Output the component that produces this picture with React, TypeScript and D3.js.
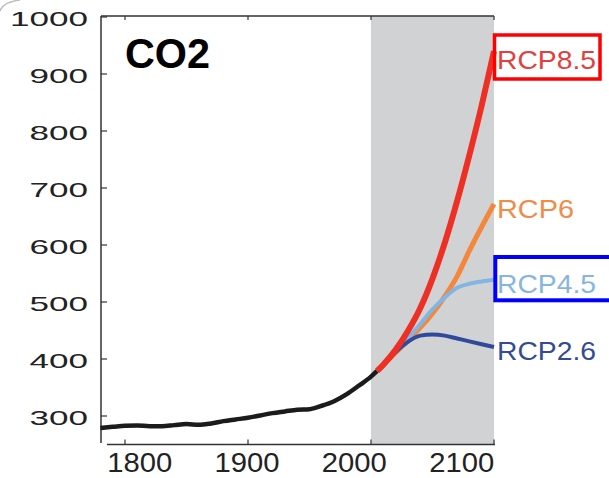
import React from "react";
import * as d3 from "d3";

// Historical atmospheric CO2 (ppm)
const histYears = [1780, 1790, 1800, 1810, 1820, 1830, 1840, 1850, 1860, 1870, 1880, 1890, 1900, 1910, 1920, 1930, 1940, 1950, 1960, 1970, 1980, 1990, 2000, 2005];
const histCO2 = [279, 281, 283, 283.5, 282, 282, 284, 286, 284.5, 287, 291, 294, 297, 301, 305, 308, 311, 312, 318, 326, 338, 353, 369, 379];

// Scenario projections (ppm)
const rcpYears = [2005, 2010, 2020, 2030, 2040, 2050, 2060, 2070, 2080, 2090, 2100];
const rcp85 = [379, 390, 416, 449, 489, 541, 604, 677, 758, 845, 940];
const rcp6 = [379, 390, 411, 433, 455, 480, 510, 545, 590, 632, 672];
const rcp45 = [379, 390, 412, 436, 461, 487, 508, 525, 532, 536, 539];
const rcp26 = [379, 389, 412, 430, 441, 443, 441, 436, 431, 426, 421];

const yTicks = [300, 400, 500, 600, 700, 800, 900, 1000];
const xTicks = [1800, 1900, 2000, 2100];
const scenarioNames = ["RCP8.5", "RCP6", "RCP4.5", "RCP2.6"];

const W = 609;
const H = 478;

export default function App() {
  const x = d3.scaleLinear().domain([1780, 2100]).range([100.4, 494]);
  const y = d3.scaleLinear().domain([300, 1000]).range([416, 17]);
  // tick labels sit on a slightly compressed spacing under the axis
  const xLab = d3.scaleLinear().domain([1800, 2100]).range([139.7, 461.7]);

  const line = d3
    .line<[number, number]>()
    .x((d) => x(d[0]))
    .y((d) => y(d[1]))
    .curve(d3.curveMonotoneX);

  const pts = (years: number[], vals: number[]) =>
    years.map((yr, i) => [yr, vals[i]] as [number, number]);

  const series = [
    { name: scenarioNames[1], vals: rcp6, color: "#f5873c", width: 5, label: "#f28a48", dy: 14 },
    { name: scenarioNames[2], vals: rcp45, color: "#82b5e2", width: 4, label: "#86b6e0", dy: 13 },
    { name: scenarioNames[3], vals: rcp26, color: "#30499a", width: 4, label: "#344b94", dy: 13 },
    { name: scenarioNames[0], vals: rcp85, color: "#ee3024", width: 6, label: "#e2403d", dy: 18 },
  ];

  const axisColor = "#333";
  const top = 16;
  const bottomY = 444.5;

  return (
    <div style={{ position: "fixed", left: 0, top: 0 }}>
      <svg width={W} height={H} style={{ display: "block", background: "#fff" }} fontFamily="'Liberation Sans', Arial, Helvetica, sans-serif">
        {/* slide corner */}
        <path d="M0,11 Q3,2 20,0" fill="none" stroke="#bdbdbd" strokeWidth={1.5} />

        {/* projection period */}
        <rect x={x(2000)} y={top} width={x(2100) - x(2000)} height={bottomY - top} fill="#d1d2d4" />

        {/* left axis */}
        <line x1={101} x2={101} y1={top} y2={443} stroke={axisColor} strokeWidth={1.5} />
        {yTicks.map((t) => (
          <g key={t}>
            <line x1={101} x2={107} y1={y(t)} y2={y(t)} stroke={axisColor} strokeWidth={1.2} />
            <text
              x={88}
              y={y(t) + 8.5}
              textAnchor="end"
              fontSize={21}
              fill="#222"
              textLength={String(t).length * 19.5}
              lengthAdjust="spacingAndGlyphs"
            >
              {t}
            </text>
          </g>
        ))}

        {/* top frame */}
        <line x1={101} x2={x(2100)} y1={top} y2={top} stroke={axisColor} strokeWidth={1.5} />
        {xTicks.map((t) => (
          <line key={"tt" + t} x1={x(t)} x2={x(t)} y1={top} y2={top + 4} stroke={axisColor} strokeWidth={1.2} />
        ))}

        {/* bottom axis */}
        <line x1={107} x2={x(2100) + 1} y1={bottomY} y2={bottomY} stroke={axisColor} strokeWidth={1.5} />
        {xTicks.map((t) => (
          <g key={"bt" + t}>
            <line x1={x(t)} x2={x(t)} y1={bottomY} y2={bottomY - 5} stroke={axisColor} strokeWidth={1.2} />
            <text
              x={xLab(t)}
              y={472}
              textAnchor="middle"
              fontSize={28}
              fill="#222"
              textLength={65}
              lengthAdjust="spacingAndGlyphs"
            >
              {t}
            </text>
          </g>
        ))}

        {/* historical record */}
        <path d={line(pts(histYears, histCO2)) || ""} fill="none" stroke="#1b1b1b" strokeWidth={4.5} strokeLinejoin="round" />

        {/* scenarios */}
        {series.map((s) => (
          <path
            key={s.name}
            d={line(pts(rcpYears, s.vals)) || ""}
            fill="none"
            stroke={s.color}
            strokeWidth={s.width}
            strokeLinejoin="round"
          />
        ))}

        {/* highlight boxes */}
        <rect x={494.5} y={35} width={105.5} height={44} fill="none" stroke="#ff0000" strokeWidth={3.5} />
        <rect x={495.3} y={257} width={125} height={43.3} fill="none" stroke="#0000ff" strokeWidth={4} />

        {/* scenario labels */}
        {series.map((s) => (
          <text
            key={"l" + s.name}
            x={497}
            y={y(s.vals[s.vals.length - 1]) + s.dy}
            fontSize={25}
            fill={s.label}
            textLength={s.name.length > 4 ? 99 : 77}
            lengthAdjust="spacingAndGlyphs"
          >
            {s.name}
          </text>
        ))}

        <text x={125} y={68.3} fontSize={42} fontWeight="bold" fill="#000" textLength={85} lengthAdjust="spacingAndGlyphs">
          CO2
        </text>
      </svg>
    </div>
  );
}
